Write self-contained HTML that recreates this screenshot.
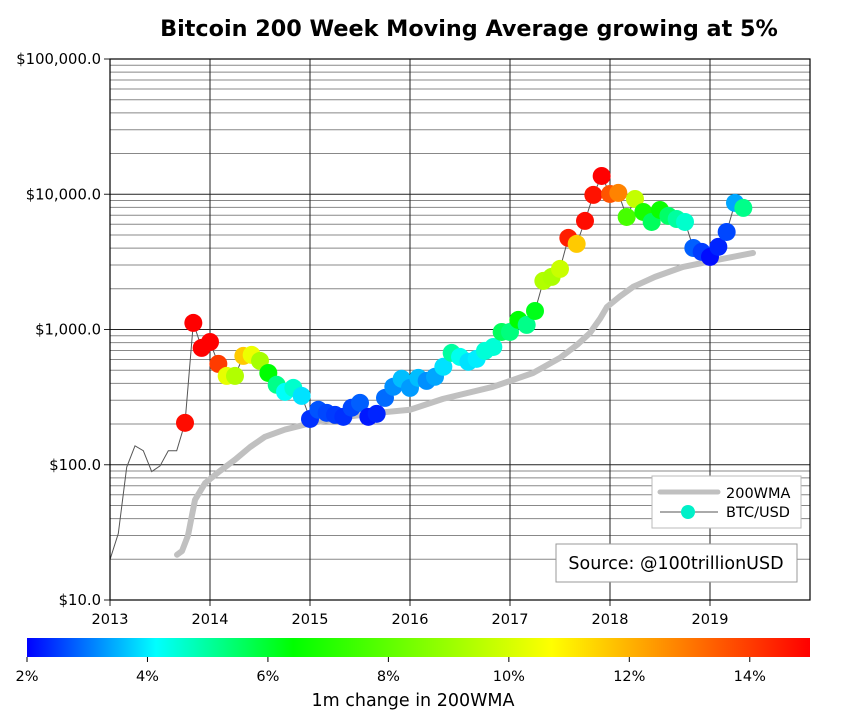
<!DOCTYPE html>
<html><head><meta charset="utf-8"><style>
body{margin:0;background:#fff;}
svg{display:block;font-family:"DejaVu Sans","Liberation Sans",sans-serif;}
</style></head><body>
<svg id="chart" width="850" height="727" xmlns="http://www.w3.org/2000/svg">
<defs><linearGradient id="jetgrad" x1="0" x2="1" y1="0" y2="0"></linearGradient>
<clipPath id="plotclip"><rect x="110" y="59" width="700" height="541"/></clipPath></defs>
<text x="469" y="36" text-anchor="middle" font-size="22.3" font-weight="bold">Bitcoin 200 Week Moving Average growing at 5%</text>
<g id="grid"></g>
<g id="marks" clip-path="url(#plotclip)"></g>
<rect x="110" y="59" width="700" height="541" fill="none" stroke="#000" stroke-width="1.2"/>
<g id="axes"></g>
<g>
<rect x="652" y="476" width="149" height="52" fill="#fff" stroke="#bbb"/>
<line x1="660" y1="492" x2="718" y2="492" stroke="#c0c0c0" stroke-width="5" stroke-linecap="round"/>
<text x="726" y="498" font-size="14.5">200WMA</text>
<line x1="660" y1="512" x2="718" y2="512" stroke="#555" stroke-width="1"/>
<circle cx="688" cy="512" r="7" fill="#00f0c8"/>
<text x="726" y="517" font-size="14.5">BTC/USD</text>
</g>
<g>
<rect x="556" y="544" width="241" height="38" fill="#fff" stroke="#999"/>
<text x="676" y="569" text-anchor="middle" font-size="17.5">Source: @100trillionUSD</text>
</g>
<rect x="27" y="638" width="783" height="19" fill="url(#jetgrad)"/>
<g id="cbaxis"></g>
<text x="413" y="706" text-anchor="middle" font-size="17.5">1m change in 200WMA</text>
</svg>
<script>
const preDates = [2013.0,2013.083,2013.167,2013.25,2013.333,2013.417,2013.5,2013.583,2013.667];
const prePrices = [19.9,31,96,138,127,89,98,127,127];
const btcStart = 2013.75;
const btcPrices = [204,1119,731,809,557,454,454,638,649,586,477,390,346,370,323,218,255,242,234,226,264,287,226,238,312,377,432,370,439,417,447,530,671,627,577,607,695,743,959,959,1178,1081,1371,2286,2449,2806,4755,4295,6353,9886,13650,10050,10230,6792,9226,7396,6237,7656,6918,6561,6237,4009,3750,3443,4083,5260,8630,7925];
const btcChange = [14.8,15,15,15,14,10.3,9.4,11.6,10.4,9.2,6.4,5.2,4.2,4.6,3.9,2.4,2.7,2.6,2.5,2.4,2.6,2.8,2.2,2.3,2.9,3.2,3.6,3.3,3.6,3.2,3.4,3.9,5.0,4.3,3.9,4.0,4.5,4.5,5.6,5.3,6.4,5.2,6.2,9.4,9.3,9.8,14.5,11.6,14.8,14.7,15,13.6,12.8,7.6,9.7,6.8,5.6,6.6,5.5,5.0,4.6,2.8,2.5,2.1,2.3,2.6,3.4,5.2,4.9];
const wmaDates = [2013.67,2013.72,2013.78,2013.85,2013.95,2014.1,2014.25,2014.4,2014.55,2014.75,2015.02,2015.4,2015.7,2016.0,2016.33,2016.83,2017.23,2017.5,2017.68,2017.8,2017.9,2017.97,2018.1,2018.23,2018.45,2018.73,2019.07,2019.43];
const wmaPrices = [21.6,23,30,55,73,90,109,135,161,182,204,228,243,255,307,377,477,617,780,944,1200,1469,1760,2065,2450,2904,3266,3681];
const yearTicks = [2013,2014,2015,2016,2017,2018,2019];
const priceTicks = [10,100,1000,10000,100000];
const priceLabels = ["$10.0","$100.0","$1,000.0","$10,000.0","$100,000.0"];
const cbTicks = [2,4,6,8,10,12,14];

const NS="http://www.w3.org/2000/svg";
const X=t=>110+(t-2013)*100;
const Y=p=>600-(Math.log10(p)-1)*135.25;
const CB=v=>27+(v-2)/13*783;
const cstops=[[0,0,0,255],[0.165,0,255,255],[0.34,0,255,0],[0.67,255,255,0],[1,255,0,0]];
function cmap(t){t=Math.max(0,Math.min(1,t));for(let i=1;i<cstops.length;i++){if(t<=cstops[i][0]){const a=cstops[i-1],b=cstops[i];const f=(t-a[0])/(b[0]-a[0]);return `rgb(${Math.round(a[1]+(b[1]-a[1])*f)},${Math.round(a[2]+(b[2]-a[2])*f)},${Math.round(a[3]+(b[3]-a[3])*f)})`;}}return 'rgb(255,0,0)';}
function mk(tag,attrs,parent){const e=document.createElementNS(NS,tag);for(const k in attrs)e.setAttribute(k,attrs[k]);parent.appendChild(e);return e;}
const grid=document.getElementById('grid'),marks=document.getElementById('marks'),axes=document.getElementById('axes'),cbaxis=document.getElementById('cbaxis');
for(let d=1;d<5;d++){for(let m=2;m<10;m++){const y=Y(m*Math.pow(10,d));const l=mk('line',{x1:110,x2:810,y1:y,y2:y,stroke:'#888','stroke-width':1},grid);

}}
priceTicks.forEach((p,i)=>{const y=Y(p);const l=mk('line',{x1:104,x2:810,y1:y,y2:y,stroke:'#222','stroke-width':1},grid);


const t=mk('text',{x:101,y:y+5,'text-anchor':'end','font-size':14.8},axes);t.textContent=priceLabels[i];

});
yearTicks.forEach(yr=>{const x=X(yr);const l=mk('line',{x1:x,x2:x,y1:59,y2:606,stroke:'#222','stroke-width':1},grid);


const t=mk('text',{x:x,y:624,'text-anchor':'middle','font-size':14.5},axes);t.textContent=yr;

});
const wp=wmaDates.map((d,i)=>X(d)+','+Y(wmaPrices[i])).join(' ');
const wl=mk('polyline',{points:wp,fill:'none',stroke:'#c0c0c0','stroke-width':6,'stroke-linecap':'round','stroke-linejoin':'round'},marks);


const pts=[];prePrices.forEach((p,i)=>pts.push(X(preDates[i])+','+Y(p)));
btcPrices.forEach((p,i)=>pts.push(X(btcStart+i/12)+','+Y(p)));
const bl=mk('polyline',{points:pts.join(' '),fill:'none',stroke:'#555','stroke-width':1},marks);


btcPrices.forEach((p,i)=>{const c=mk('circle',{cx:X(btcStart+i/12),cy:Y(p),r:9,fill:cmap((btcChange[i]-2)/13)},marks);

});
const g=document.getElementById('jetgrad');cstops.forEach(s=>{mk('stop',{offset:s[0],'stop-color':`rgb(${s[1]},${s[2]},${s[3]})`},g);});
cbTicks.forEach(v=>{const x=CB(v);mk('line',{x1:x,x2:x,y1:657,y2:662,stroke:'#000'},cbaxis);
const t=mk('text',{x:x,y:681,'text-anchor':'middle','font-size':14.5},cbaxis);t.textContent=v+'%';

});
</script>
</body></html>
